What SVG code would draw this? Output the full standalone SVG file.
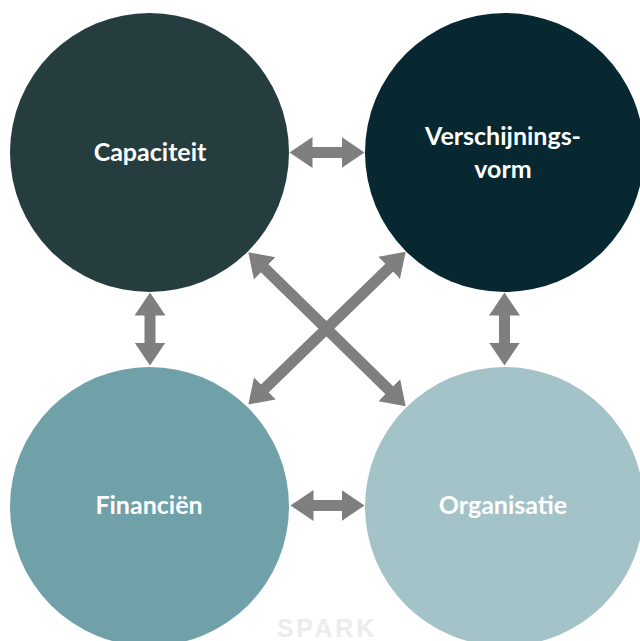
<svg xmlns="http://www.w3.org/2000/svg" width="640" height="641" viewBox="0 0 640 641">
<defs>
<style>
.lbl{font-family:Lato,"Open Sans","Liberation Sans",sans-serif;font-weight:bold;font-size:25px;fill:#ffffff;text-anchor:middle}
.conn{stroke:#7f7f7f;stroke-width:11;fill:none;marker-start:url(#head);marker-end:url(#head)}
.wm{font-family:"Liberation Sans",Arial,sans-serif;font-weight:bold;font-size:25px;fill:#ececec;letter-spacing:3px}
</style>
<marker id="head" markerUnits="userSpaceOnUse" markerWidth="24" markerHeight="32" refX="0.5" refY="15.5" viewBox="0 0 24 31" orient="auto-start-reverse">
<path d="M0,0 L23,15.5 L0,31 Z" fill="#7f7f7f"/>
</marker>
</defs>
<rect width="640" height="641" fill="#ffffff"/>
<text class="wm" x="327" y="637" text-anchor="middle">SPARK</text>
<g id="capaciteit">
<circle cx="149.5" cy="152.5" r="139.5" fill="#263d40"/>
<text class="lbl" x="150" y="161">Capaciteit</text>
</g>
<g id="verschijningsvorm">
<circle cx="504.5" cy="152.5" r="139.5" fill="#072830"/>
<text class="lbl" x="503" y="145">Verschijnings-</text>
<text class="lbl" x="503" y="178">vorm</text>
</g>
<g id="financien">
<circle cx="149.5" cy="506.5" r="139.5" fill="#70a1a8"/>
<text class="lbl" x="149" y="514">Financiën</text>
</g>
<g id="organisatie">
<circle cx="504.5" cy="506.5" r="139.5" fill="#a3c3c8"/>
<text class="lbl" x="503" y="514">Organisatie</text>
</g>
<g id="connectors">
<line class="conn" x1="312" y1="152.5" x2="342" y2="152.5"/>
<line class="conn" x1="313" y1="505.5" x2="342" y2="505.5"/>
<line class="conn" x1="150" y1="315" x2="150" y2="343"/>
<line class="conn" x1="504.5" y1="315" x2="504.5" y2="343"/>
<line class="conn" x1="264.4" y1="268" x2="389.6" y2="390.5"/>
<line class="conn" x1="389.5" y1="267.5" x2="264.5" y2="388.8"/>
</g>
</svg>
